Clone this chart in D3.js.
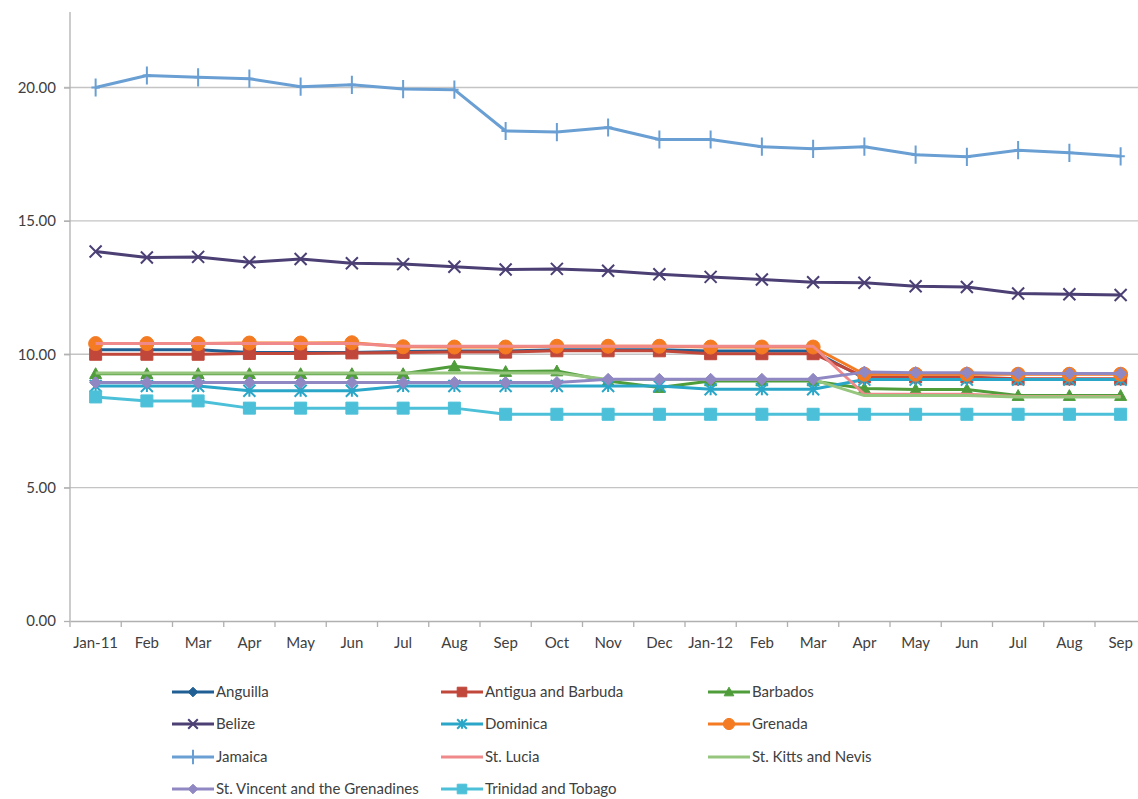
<!DOCTYPE html>
<html><head><meta charset="utf-8">
<script src="https://cdn.jsdelivr.net/npm/d3@7"></script>
<style>body{margin:0;background:#fff;} svg{display:block;} text{font-family:Lato,"Open Sans",sans-serif;fill:#404040;}</style>
</head><body><svg id="c" width="1138" height="799"></svg>
<script>
const months = ["Jan-11","Feb","Mar","Apr","May","Jun","Jul","Aug","Sep","Oct","Nov","Dec","Jan-12","Feb","Mar","Apr","May","Jun","Jul","Aug","Sep"];
const yTicks = [0,5,10,15,20];
const anguilla = [10.17,10.17,10.17,10.07,10.07,10.07,10.10,10.12,10.12,10.17,10.17,10.17,10.12,10.12,10.12,9.10,9.10,9.10,9.05,9.05,9.05];
const antigua = [10.00,10.00,10.00,10.03,10.03,10.05,10.07,10.08,10.08,10.13,10.13,10.13,10.02,10.02,10.02,9.15,9.15,9.15,9.08,9.08,9.08];
const barbados = [9.27,9.27,9.27,9.27,9.27,9.27,9.27,9.55,9.35,9.37,9.00,8.75,9.00,9.00,9.00,8.72,8.68,8.68,8.45,8.45,8.45];
const belize = [13.85,13.63,13.65,13.45,13.57,13.41,13.38,13.28,13.18,13.20,13.13,13.00,12.90,12.80,12.70,12.68,12.55,12.52,12.28,12.25,12.22];
const dominica = [8.81,8.81,8.81,8.63,8.63,8.63,8.81,8.81,8.81,8.81,8.81,8.81,8.69,8.69,8.69,9.05,9.05,9.05,9.05,9.05,9.05];
const grenada = [10.40,10.40,10.40,10.42,10.42,10.43,10.28,10.27,10.27,10.30,10.30,10.30,10.27,10.27,10.27,9.25,9.25,9.25,9.25,9.25,9.25];
const jamaica = [20.00,20.45,20.38,20.33,20.03,20.10,19.94,19.92,18.37,18.33,18.50,18.05,18.05,17.78,17.70,17.78,17.48,17.40,17.65,17.55,17.42];
const stLucia = [10.40,10.40,10.40,10.40,10.40,10.40,10.30,10.30,10.30,10.30,10.30,10.30,10.30,10.30,10.30,8.50,8.50,8.50,8.42,8.42,8.42];
const stKitts = [9.30,9.30,9.30,9.30,9.30,9.30,9.30,9.30,9.30,9.30,9.05,9.05,9.05,9.05,9.05,8.45,8.45,8.45,8.40,8.40,8.40];
const stVincent = [8.94,8.94,8.94,8.94,8.94,8.94,8.94,8.94,8.94,8.94,9.06,9.06,9.06,9.06,9.06,9.33,9.31,9.31,9.28,9.28,9.28];
const trinidad = [8.40,8.25,8.25,7.98,7.98,7.98,7.98,7.98,7.75,7.75,7.75,7.75,7.75,7.75,7.75,7.75,7.75,7.75,7.75,7.75,7.75];

const seriesNames = ["Anguilla","Antigua and Barbuda","Barbados","Belize","Dominica","Grenada","Jamaica","St. Lucia","St. Kitts and Nevis","St. Vincent and the Grenadines","Trinidad and Tobago"];
const seriesValues = [anguilla,antigua,barbados,belize,dominica,grenada,jamaica,stLucia,stKitts,stVincent,trinidad];
const seriesColors = ["#1f5f93","#c0473a","#4e9c3a","#4b3f74","#2aa6c8","#f47b22","#6a9fd3","#f08a8a","#96c67e","#9088c2","#4cc0d8"];
const seriesMarkers = ["diamond","square","triangle","x","star","circle","plus","none","none","diamond","square"];

const svg = d3.select("#c");
const x = d3.scaleBand().domain(d3.range(months.length)).range([70, 70 + 51.25*months.length]);
const y = d3.scaleLinear().domain([0,20]).range([621,87.5]);

// gridlines
svg.append("g").selectAll("line").data(yTicks.filter(d=>d>0)).join("line")
  .attr("x1",64).attr("x2",1138).attr("y1",d=>y(d)).attr("y2",d=>y(d))
  .attr("stroke","#c4c4c4").attr("stroke-width",1.3);
// y axis
const yAxis = svg.append("g").attr("transform","translate(70,0)")
  .call(d3.axisLeft(y).tickValues(yTicks).tickFormat(d3.format(".2f")).tickSize(6).tickPadding(8));
yAxis.select(".domain").attr("d",`M0,${y(0)}V12`);
yAxis.selectAll("path,line").attr("stroke","#b0b0b0").attr("stroke-width",1.3);
yAxis.selectAll("text").style("font-size","15px").attr("fill","#404040");
// x axis
const xAxis = svg.append("g").attr("transform",`translate(0,${y(0)})`)
  .call(d3.axisBottom(x).tickFormat(i=>months[i]).tickSize(0).tickPadding(16));
xAxis.select(".domain").attr("stroke","#b0b0b0").attr("stroke-width",1.3);
xAxis.selectAll("text").style("font-size","15px").attr("fill","#404040");
svg.append("g").selectAll("line").data(d3.range(months.length+1)).join("line")
  .attr("x1",i=>70+51.25*i).attr("x2",i=>70+51.25*i).attr("y1",y(0)).attr("y2",y(0)+6)
  .attr("stroke","#b0b0b0").attr("stroke-width",1.3);

function markerPath(type, s){
  const h=s/2;
  switch(type){
    case "diamond": return `M0,${-h}L${h},0L0,${h}L${-h},0Z`;
    case "square": return `M${-h},${-h}H${h}V${h}H${-h}Z`;
    case "triangle": return `M0,${-h}L${h},${h*0.8}L${-h},${h*0.8}Z`;
    case "circle": return d3.symbol(d3.symbolCircle, Math.PI*h*h)();
    case "x": return `M${-h},${-h}L${h},${h}M${h},${-h}L${-h},${h}`;
    case "star": return `M${-h},${-h}L${h},${h}M${h},${-h}L${-h},${h}M0,${-h}V${h}`;
    case "plus": return `M0,${-h*1.3}V${h*1.3}M${-h*0.6},0H${h*0.6}`;
  }
  return "";
}
function drawMarker(g, type, color, s){
  if(type==="none") return;
  const p = g.append("path").attr("d", markerPath(type,s));
  if(["x","star","plus"].includes(type)) p.attr("fill","none").attr("stroke",color).attr("stroke-width",2);
  else p.attr("fill",color).attr("stroke",color).attr("stroke-width",1);
}
const markerSize = {diamond:12,square:12,triangle:12,circle:14,x:12,star:12,plus:14};

const line = d3.line().x((d,i)=>x(i)+x.bandwidth()/2).y(d=>y(d));
seriesValues.forEach((vals,k)=>{
  const g = svg.append("g");
  g.append("path").datum(vals).attr("d",line).attr("fill","none")
    .attr("stroke",seriesColors[k]).attr("stroke-width",3).attr("stroke-linejoin","round");
  vals.forEach((v,i)=>{
    const mg = g.append("g").attr("transform",`translate(${x(i)+x.bandwidth()/2},${y(v)})`);
    drawMarker(mg, seriesMarkers[k], seriesColors[k], markerSize[seriesMarkers[k]]||0);
  });
});

// legend
const colX = [172,441,708];
const rowY = [692,724,757,789];
seriesNames.forEach((name,k)=>{
  const col = k%3, row = Math.floor(k/3);
  const g = svg.append("g").attr("transform",`translate(${colX[col]},${rowY[row]})`);
  g.append("line").attr("x1",0).attr("x2",42).attr("y1",0).attr("y2",0)
    .attr("stroke",seriesColors[k]).attr("stroke-width",3);
  const mg = g.append("g").attr("transform","translate(21,0)");
  drawMarker(mg, seriesMarkers[k], seriesColors[k], (markerSize[seriesMarkers[k]]||0)*0.8);
  g.append("text").attr("x",44).attr("y",0).attr("dy","0.35em").style("font-size","15px").text(name);
});
</script></body></html>
